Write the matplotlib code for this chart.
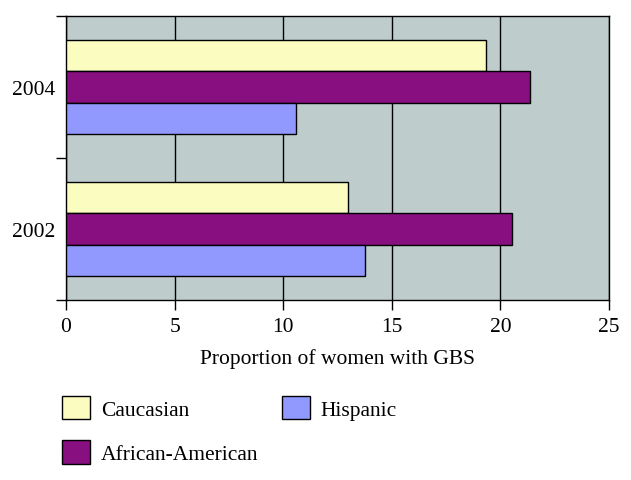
import matplotlib.pyplot as plt
import matplotlib.patches as mpatches
import numpy as np

plt.rcParams['font.family'] = ['Liberation Serif', 'DejaVu Serif']

years = ['2002', '2004']
groups = ['Caucasian', 'African-American', 'Hispanic']
caucasian = [13.0, 19.35]
african_american = [20.55, 21.35]
hispanic = [13.75, 10.6]
colors = ['#FAFCC0', '#870F80', '#9199FF']

fig = plt.figure(figsize=(6.31, 4.81), dpi=100)
ax = fig.add_axes([66/631, 1 - 301/481, (609 - 66)/631, (301 - 17)/481])
ax.set_facecolor('#BFCCCC')

y = np.arange(len(years))
h = 0.222
offsets = [h, 0, -h]
handles = []
for vals, off, c, name in zip([caucasian, african_american, hispanic], offsets, colors, groups):
    ax.barh(y + off, vals, height=h, color=c, edgecolor='black', linewidth=1.0, zorder=3)
    handles.append(mpatches.Patch(facecolor=c, edgecolor='black', linewidth=1.0, label=name))

ax.set_xlim(0, 25)
ax.set_ylim(-0.5, 1.5)
ax.set_xticks([0, 5, 10, 15, 20, 25])
ax.xaxis.grid(True, color='black', linewidth=1.0, zorder=1)
ax.set_axisbelow(True)
ax.set_yticks(y)
ax.set_yticklabels(years)
ax.set_yticks([-0.5, 0.5, 1.5], minor=True)
ax.tick_params(axis='y', which='major', length=0, pad=8, labelsize=15.5)
ax.tick_params(axis='y', which='minor', length=7, width=1)
ax.tick_params(axis='x', length=7, width=1, labelsize=15.5, pad=5)
for s in ax.spines.values():
    s.set_linewidth(1.0)

ax.set_xlabel('Proportion of women with GBS', fontsize=15.5, labelpad=9)

fig.legend(handles=handles, loc='upper left', bbox_to_anchor=(62/631, 1 - 397/481),
           ncol=2, frameon=False, fontsize=15.5, handlelength=1.3, handleheight=1.3,
           handletextpad=0.5, columnspacing=1.1, labelspacing=0.95,
           borderpad=0, borderaxespad=0)

fig.savefig('out.png', dpi=100)
